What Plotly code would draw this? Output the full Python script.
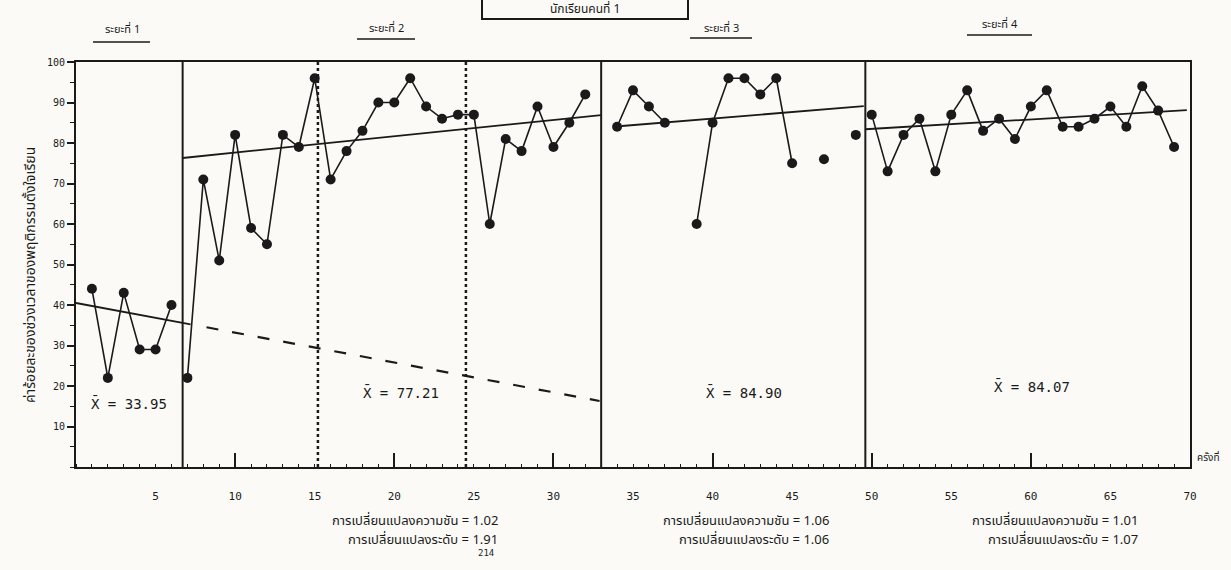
import plotly.graph_objects as go

# ---------------- data ----------------
phase1_sessions = [1, 2, 3, 4, 5, 6]
phase1_values = [44, 22, 43, 29, 29, 40]

phase2_sessions = list(range(7, 33))
phase2_values = [22, 71, 51, 82, 59, 55, 82, 79, 96, 71, 78, 83, 90,
                 90, 96, 89, 86, 87, 87, 60, 81, 78, 89, 79, 85, 92]

phase3a_sessions = [34, 35, 36, 37]
phase3a_values = [84, 93, 89, 85]
phase3b_sessions = [39, 40, 41, 42, 43, 44, 45]
phase3b_values = [60, 85, 96, 96, 92, 96, 75]
phase3c_sessions = [47, 49]
phase3c_values = [76, 82]

phase4_sessions = list(range(50, 70))
phase4_values = [87, 73, 82, 86, 73, 87, 93, 83, 86, 81,
                 89, 93, 84, 84, 86, 89, 84, 94, 88, 79]

trend1_x = [0, 7.2]
trend1_y = [40.5, 35.2]
trend1_ext_x = [8.2, 32.9]
trend1_ext_y = [34.5, 16.3]
trend2_x = [6.7, 33.0]
trend2_y = [76.3, 86.9]
trend3_x = [34.3, 49.5]
trend3_y = [84.2, 89.1]
trend4_x = [49.6, 69.8]
trend4_y = [83.4, 88.1]

phase_change_x = [6.7, 33.0, 49.6]
subphase_x = [15.2, 24.5]

x_tick_vals = list(range(5, 75, 5))
x_tick_text = [str(v) for v in x_tick_vals]
y_tick_vals = list(range(10, 110, 10))
y_tick_text = [str(v) for v in y_tick_vals]

phase_titles = ["ระยะที่ 1", "ระยะที่ 2", "ระยะที่ 3", "ระยะที่ 4"]
mean_labels = ["X̄ = 33.95", "X̄ = 77.21", "X̄ = 84.90", "X̄ = 84.07"]
slope_labels = ["การเปลี่ยนแปลงความชัน = 1.02", "การเปลี่ยนแปลงความชัน = 1.06",
                "การเปลี่ยนแปลงความชัน = 1.01"]
level_labels = ["การเปลี่ยนแปลงระดับ = 1.91", "การเปลี่ยนแปลงระดับ = 1.06",
                "การเปลี่ยนแปลงระดับ = 1.07"]
chart_title = "นักเรียนคนที่ 1"
y_title = "ค่าร้อยละของช่วงเวลาของพฤติกรรมตั้งใจเรียน"
x_title = "ครั้งที่"
page_no = "214"

# ---------------- layout helpers ----------------
W, H = 1231, 570
L, R, T, B = 76, 1190, 62, 467   # plot area in pixels
def px(x):
    return (x - L) / (R - L)
def py(y):
    return (B - y) / (B - T)

INK = "#1a1a1a"
MONO = "DejaVu Sans Mono, Liberation Mono, monospace"
THAI = "Noto Sans Thai, Noto Sans, DejaVu Sans, sans-serif"

fig = go.Figure()

line_style = dict(color=INK, width=1.6)
marker_style = dict(color=INK, size=10, symbol="circle")

def add_series(xs, ys, mode="lines+markers"):
    fig.add_trace(go.Scatter(x=xs, y=ys, mode=mode, line=line_style,
                             marker=marker_style, showlegend=False,
                             hoverinfo="x+y"))

add_series(phase1_sessions, phase1_values)
add_series(phase2_sessions, phase2_values)
add_series(phase3a_sessions, phase3a_values)
add_series(phase3b_sessions, phase3b_values)
add_series(phase3c_sessions, phase3c_values, mode="markers")
add_series(phase4_sessions, phase4_values)

for tx, ty, dash in [(trend1_x, trend1_y, "solid"), (trend1_ext_x, trend1_ext_y, "dash"),
                     (trend2_x, trend2_y, "solid"), (trend3_x, trend3_y, "solid"),
                     (trend4_x, trend4_y, "solid")]:
    fig.add_trace(go.Scatter(x=tx, y=ty, mode="lines",
                             line=dict(color=INK, width=1.8 if dash == "solid" else 2.2,
                                       dash="solid" if dash == "solid" else "12px,14px"),
                             showlegend=False, hoverinfo="skip"))

# invisible trace to anchor the overlay axis that carries the long inside ticks
fig.add_trace(go.Scatter(x=[0, 70], y=[None, None], xaxis="x2", mode="lines",
                         showlegend=False, hoverinfo="skip"))

shapes = []
for xv in phase_change_x:
    shapes.append(dict(type="line", xref="x", yref="y", x0=xv, x1=xv, y0=0, y1=100,
                       line=dict(color=INK, width=2)))
for xv in subphase_x:
    shapes.append(dict(type="line", xref="x", yref="y", x0=xv, x1=xv, y0=0, y1=100,
                       line=dict(color=INK, width=2.5, dash="dot")))

# title box
shapes.append(dict(type="rect", xref="paper", yref="paper",
                   x0=px(482), x1=px(688), y0=py(19), y1=py(-4),
                   line=dict(color=INK, width=2), fillcolor="rgba(0,0,0,0)"))

# underlines of phase titles
underlines = [(93, 150, 42), (357, 415, 39), (690, 752, 38), (967, 1032, 35)]
for x0, x1, yy in underlines:
    shapes.append(dict(type="line", xref="paper", yref="paper",
                       x0=px(x0), x1=px(x1), y0=py(yy), y1=py(yy),
                       line=dict(color=INK, width=1.5)))

annotations = []
title_pos = [(122, 30), (386, 28), (721, 28), (1000, 25)]
for txt, (xx, yy) in zip(phase_titles, title_pos):
    annotations.append(dict(text=txt, xref="paper", yref="paper", x=px(xx), y=py(yy),
                            showarrow=False, font=dict(family=THAI, size=11, color=INK),
                            xanchor="center", yanchor="middle"))

mean_pos = [(3.3, 15.8), (20.4, 18.5), (42.0, 18.3), (60.1, 19.8)]
for txt, (xx, yy) in zip(mean_labels, mean_pos):
    annotations.append(dict(text=txt, xref="x", yref="y", x=xx, y=yy, showarrow=False,
                            font=dict(family=MONO, size=14, color=INK),
                            xanchor="center", yanchor="middle"))

right_edges = [500, 831, 1140]
for s, lv, re in zip(slope_labels, level_labels, right_edges):
    annotations.append(dict(text=s, xref="paper", yref="paper", x=px(re), y=py(521),
                            showarrow=False, xanchor="right", yanchor="middle",
                            font=dict(family=THAI, size=13, color=INK)))
    annotations.append(dict(text=lv, xref="paper", yref="paper", x=px(re), y=py(540),
                            showarrow=False, xanchor="right", yanchor="middle",
                            font=dict(family=THAI, size=13, color=INK)))

annotations.append(dict(text=page_no, xref="paper", yref="paper", x=px(486), y=py(560),
                        showarrow=False, font=dict(family=MONO, size=9, color=INK)))
annotations.append(dict(text=chart_title, xref="paper", yref="paper", x=px(585), y=py(9),
                        showarrow=False, font=dict(family=THAI, size=12, color=INK),
                        xanchor="center", yanchor="middle"))
annotations.append(dict(text=y_title, xref="paper", yref="paper", x=px(30), y=py(275),
                        textangle=-90, showarrow=False,
                        font=dict(family=THAI, size=14, color=INK),
                        xanchor="center", yanchor="middle"))
annotations.append(dict(text=x_title, xref="paper", yref="paper", x=px(1195), y=py(458),
                        showarrow=False, xanchor="left", yanchor="middle",
                        font=dict(family=THAI, size=10, color=INK)))

fig.update_layout(
    width=W, height=H, autosize=False,
    margin=dict(l=L, r=W - R, t=T, b=H - B, pad=0),
    paper_bgcolor="#fbfaf7", plot_bgcolor="#fbfaf7",
    showlegend=False,
    shapes=shapes, annotations=annotations,
    xaxis=dict(range=[0, 70], tickmode="array", tickvals=x_tick_vals, ticktext=x_tick_text,
               ticks="", showgrid=False, zeroline=False, showline=True, linewidth=2,
               linecolor=INK, mirror=True, ticklabelstandoff=18,
               tickfont=dict(family=MONO, size=11, color=INK),
               minor=dict(tickmode="linear", tick0=0, dtick=1, ticks="inside",
                          ticklen=3, tickcolor=INK, tickwidth=1, showgrid=False)),
    xaxis2=dict(range=[0, 70], overlaying="x", side="bottom", anchor="y",
                tickmode="linear", tick0=10, dtick=10, ticks="inside", ticklen=14,
                tickwidth=2, tickcolor=INK, showticklabels=False, showgrid=False,
                zeroline=False, showline=False),
    yaxis=dict(range=[0, 100], tickmode="array", tickvals=y_tick_vals, ticktext=y_tick_text,
               ticks="outside", ticklen=7, tickwidth=2, tickcolor=INK,
               showgrid=False, zeroline=False, showline=True, linewidth=2,
               linecolor=INK, mirror=True,
               tickfont=dict(family=MONO, size=10, color=INK),
               minor=dict(tickmode="linear", tick0=0, dtick=5, ticks="outside",
                          ticklen=4, tickcolor=INK, tickwidth=1, showgrid=False)),
)

fig.write_html("out.html", config={"displayModeBar": False},
               post_script="document.body.style.margin='0';document.body.style.background='#fbfaf7';")
